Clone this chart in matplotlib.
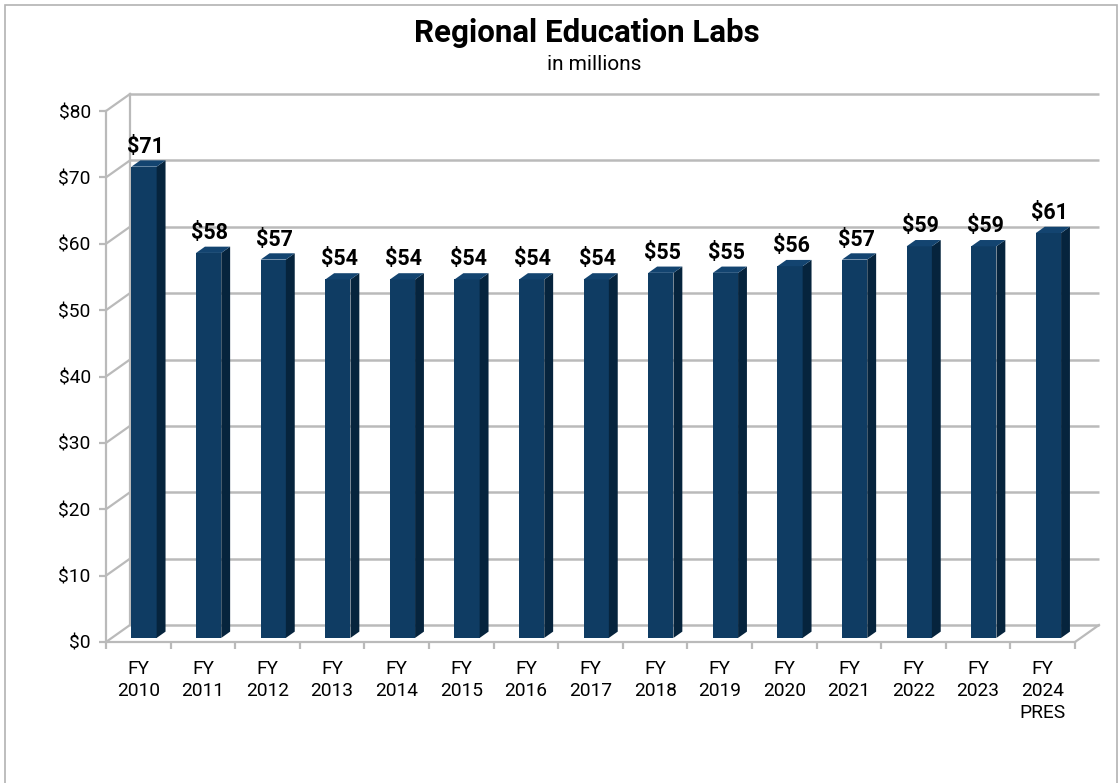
import matplotlib
matplotlib.use('Agg')
import matplotlib.pyplot as plt
from matplotlib.patches import Polygon, Rectangle
import numpy as np

plt.rcParams['font.family'] = ['Roboto', 'DejaVu Sans']

# ---- data ----
categories = ['FY\n2010', 'FY\n2011', 'FY\n2012', 'FY\n2013', 'FY\n2014', 'FY\n2015',
              'FY\n2016', 'FY\n2017', 'FY\n2018', 'FY\n2019', 'FY\n2020', 'FY\n2021',
              'FY\n2022', 'FY\n2023', 'FY\n2024\nPRES']
values = [71, 58, 57, 54, 54, 54, 54, 54, 55, 55, 56, 57, 59, 59, 61]
y_ticks = [0, 10, 20, 30, 40, 50, 60, 70, 80]
y_tick_labels = ['\\$0', '\\$10', '\\$20', '\\$30', '\\$40', '\\$50', '\\$60', '\\$70', '\\$80']
value_labels = ['\\$' + str(v) for v in values]
title = 'Regional Education Labs'
subtitle = 'in millions'

# ---- style ----
W_PX, H_PX = 1119, 783
front_col = '#0f3c63'
side_col = '#06243d'
top_col = '#134470'
grid_col = '#bababa'
depth_px = (24, 17)   # depth of the 3D box in pixels

fig = plt.figure(figsize=(W_PX / 100, H_PX / 100), dpi=100)
ax = fig.add_axes([106 / W_PX, (H_PX - 642) / H_PX, (1075 - 106) / W_PX, (642 - 111) / H_PX])

n = len(values)
x = np.arange(n)
ax.set_xlim(-0.5, n - 0.5)
ax.set_ylim(0, 80)

# convert depth in pixels to data units
bb = ax.get_position()
ax_w_px = bb.width * W_PX
ax_h_px = bb.height * H_PX
DX = depth_px[0] / (ax_w_px / n)
DY = depth_px[1] / (ax_h_px / 80)

# back wall gridlines, left wall diagonals
x0, x1 = -0.5, n - 0.5
for v in y_ticks:
    ax.plot([x0 + DX, x1 + DX], [v + DY, v + DY], color=grid_col, lw=1.8,
            clip_on=False, zorder=1, solid_capstyle='butt')
    ax.plot([x0, x0 + DX], [v, v + DY], color=grid_col, lw=1.6, clip_on=False, zorder=1)
ax.plot([x0 + DX, x0 + DX], [DY, 80 + DY], color=grid_col, lw=1.6, clip_on=False, zorder=1)
ax.plot([x1, x1 + DX], [0, DY], color=grid_col, lw=1.6, clip_on=False, zorder=1)

# bars (3D prisms)
f0, f1 = 0.24, 0.61
bw = 0.39
bx = x + f0 * DX
base = f0 * DY
ddx, ddy = (f1 - f0) * DX, (f1 - f0) * DY
ax.bar(bx, values, width=bw, bottom=base, color=front_col, zorder=3, linewidth=0)
for xi, v in zip(bx, values):
    xl, xr = xi - bw / 2, xi + bw / 2
    top = base + v
    ax.add_patch(Polygon([(xr, base), (xr + ddx, base + ddy), (xr + ddx, top + ddy), (xr, top)],
                         closed=True, facecolor=side_col, edgecolor='none', zorder=3, clip_on=False))
    ax.add_patch(Polygon([(xl, top), (xr, top), (xr + ddx, top + ddy), (xl + ddx, top + ddy)],
                         closed=True, facecolor=top_col, edgecolor='none', zorder=3, clip_on=False))

for xi, v, lab in zip(bx, values, value_labels):
    ax.annotate(lab, xy=(xi + ddx * 0.15, base + v + ddy), xytext=(0, 2),
                textcoords='offset points', ha='center', va='bottom',
                fontsize=15.5, fontweight='bold', color='black', zorder=5)

# front axes
for s in ['top', 'right']:
    ax.spines[s].set_visible(False)
for s in ['left', 'bottom']:
    ax.spines[s].set_color(grid_col)
    ax.spines[s].set_linewidth(1.6)
    ax.spines[s].set_zorder(2)
ax.set_yticks(y_ticks)
ax.set_yticklabels(y_tick_labels)
ax.tick_params(axis='y', direction='out', length=5, width=1.6, color=grid_col,
               labelsize=13.8, pad=6)
ax.set_xticks(x)
ax.set_xticklabels(categories, linespacing=1.3)
ax.tick_params(axis='x', which='major', length=0, labelsize=13.8, pad=13)
ax.set_xticks(np.arange(-0.5, n, 1), minor=True)
ax.tick_params(axis='x', which='minor', direction='out', length=5, width=1.6, color=grid_col)
for t in ax.get_xticklabels():
    t.set_verticalalignment('top')
ax.patch.set_visible(False)

# titles
fig.text(587 / W_PX, 1 - 33 / H_PX, title, ha='center', va='center',
         fontsize=22.5, fontweight='bold')
fig.text(594 / W_PX, 1 - 64.5 / H_PX, subtitle, ha='center', va='center', fontsize=15)

# outer border
fig.add_artist(Rectangle((5 / W_PX, -0.05), (1117 - 5) / W_PX, 1.05 - 5 / H_PX,
                         transform=fig.transFigure, fill=False, edgecolor='#b3b3b3', lw=1.2))

fig.savefig('out.png', dpi=100)
